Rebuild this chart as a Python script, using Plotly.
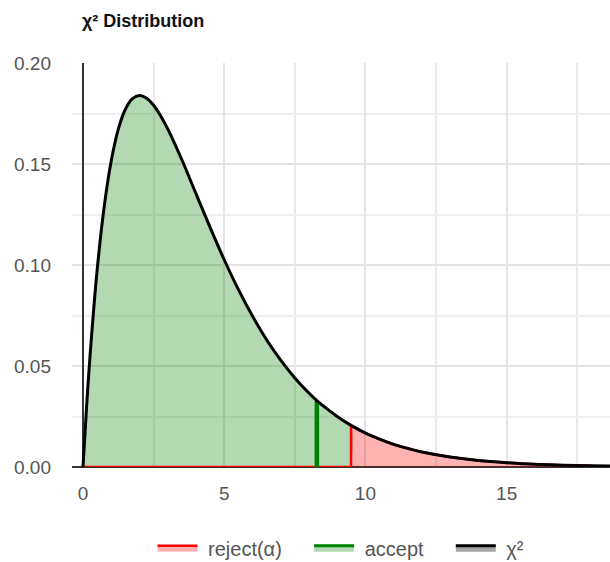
import plotly.graph_objects as go

# Values
curve_x = [0, 0.125, 0.25, 0.5, 0.75, 1, 1.25, 1.5, 1.75, 2, 2.25, 2.5, 2.75, 3, 3.5, 4,
           4.5, 5, 5.5, 6, 6.5, 7, 7.5, 8, 8.28, 8.5, 9, 9.49, 10, 10.5, 11, 11.5, 12,
           13, 14, 15, 16, 17, 18, 19]
curve_y = [0, 0.0294, 0.0552, 0.0974, 0.1289, 0.1516, 0.1673, 0.1771, 0.1824, 0.1839,
           0.1826, 0.1791, 0.1738, 0.1674, 0.1521, 0.1353, 0.1186, 0.1026, 0.0879,
           0.0747, 0.0630, 0.0529, 0.0441, 0.0366, 0.0328, 0.0303, 0.0250, 0.0206,
           0.0168, 0.0138, 0.0112, 0.0092, 0.0074, 0.0049, 0.0032, 0.0021, 0.0013,
           0.0009, 0.0006, 0.0004]
critical = 9.49     # chi-square critical value
statistic = 8.28    # test statistic
tail_end = 18

acc_x = [x for x in curve_x if x <= critical]
acc_y = [y for x, y in zip(curve_x, curve_y) if x <= critical]
rej_curve_x = [x for x in curve_x if critical <= x <= tail_end]
rej_curve_y = [y for x, y in zip(curve_x, curve_y) if critical <= x <= tail_end]
stat_y = curve_y[curve_x.index(statistic)]

NB = "\u00a0"
fig = go.Figure()

# accept region
fig.add_trace(go.Scatter(
    x=acc_x + [critical], y=acc_y + [0], mode="lines", line=dict(width=0, shape="spline"),
    fill="tozeroy", fillcolor="rgba(0,128,0,0.3)", showlegend=False, hoverinfo="skip"))
# reject region
fig.add_trace(go.Scatter(
    x=[0, critical] + rej_curve_x + [tail_end], y=[0, 0] + rej_curve_y + [0],
    mode="lines", line=dict(color="red", width=2.5),
    fill="toself", fillcolor="rgba(255,0,0,0.3)", name=NB + "reject(α)" + NB * 4))
# statistic line
fig.add_trace(go.Scatter(
    x=[statistic, statistic], y=[0, stat_y], mode="lines",
    line=dict(color="green", width=4.5), showlegend=False))
fig.add_trace(go.Scatter(
    x=[None], y=[None], mode="lines", line=dict(color="green", width=3),
    fill="toself", fillcolor="rgba(0,128,0,0.3)", name=NB + "accept" + NB * 4))
# chi-square curve
fig.add_trace(go.Scatter(
    x=curve_x, y=curve_y, mode="lines", line=dict(color="black", width=3, shape="spline"),
    showlegend=False))
fig.add_trace(go.Scatter(
    x=[None], y=[None], mode="lines", line=dict(color="black", width=3),
    fill="toself", fillcolor="rgba(0,0,0,0.35)", name=NB + "χ²"))

fig.update_layout(
    width=610, height=562,
    margin=dict(l=72, r=0, t=63, b=95, autoexpand=False),
    plot_bgcolor="white", paper_bgcolor="white",
    font=dict(family="Arial, Liberation Sans, sans-serif", size=19, color="#555"),
    title=dict(text="<b>χ² Distribution</b>", x=0.0186, xref="paper", xanchor="left",
               y=0.964, yref="container", yanchor="middle",
               font=dict(family="Arial, Liberation Sans, sans-serif", size=18, color="#111")),
    showlegend=True,
    legend=dict(orientation="h", x=0.5, xanchor="center", y=-0.2, yanchor="middle",
                font=dict(size=20, color="#555"), itemwidth=40, traceorder="normal"),
    xaxis=dict(range=[-0.39, 18.66], dtick=5, tick0=0, showgrid=True, gridcolor="#e3e3e3",
               gridwidth=1.5, zeroline=True, zerolinecolor="#333", zerolinewidth=1.5,
               minor=dict(dtick=2.5, showgrid=True, gridcolor="#e9e9e9", gridwidth=1.5),
               ticks="", automargin=False, ticklabelstandoff=13),
    yaxis=dict(range=[0, 0.2], dtick=0.05, tickformat=".2f", showgrid=True,
               gridcolor="#e3e3e3", gridwidth=1.5, zeroline=True, zerolinecolor="#333",
               zerolinewidth=2, automargin=False,
               minor=dict(dtick=0.025, showgrid=True, gridcolor="#efefef", gridwidth=1.5),
               ticks="", ticklabelstandoff=20),
)

fig.write_html(
    "out.html",
    config={"displayModeBar": False},
    post_script="document.body.style.margin='0';document.body.style.overflow='hidden';",
)
